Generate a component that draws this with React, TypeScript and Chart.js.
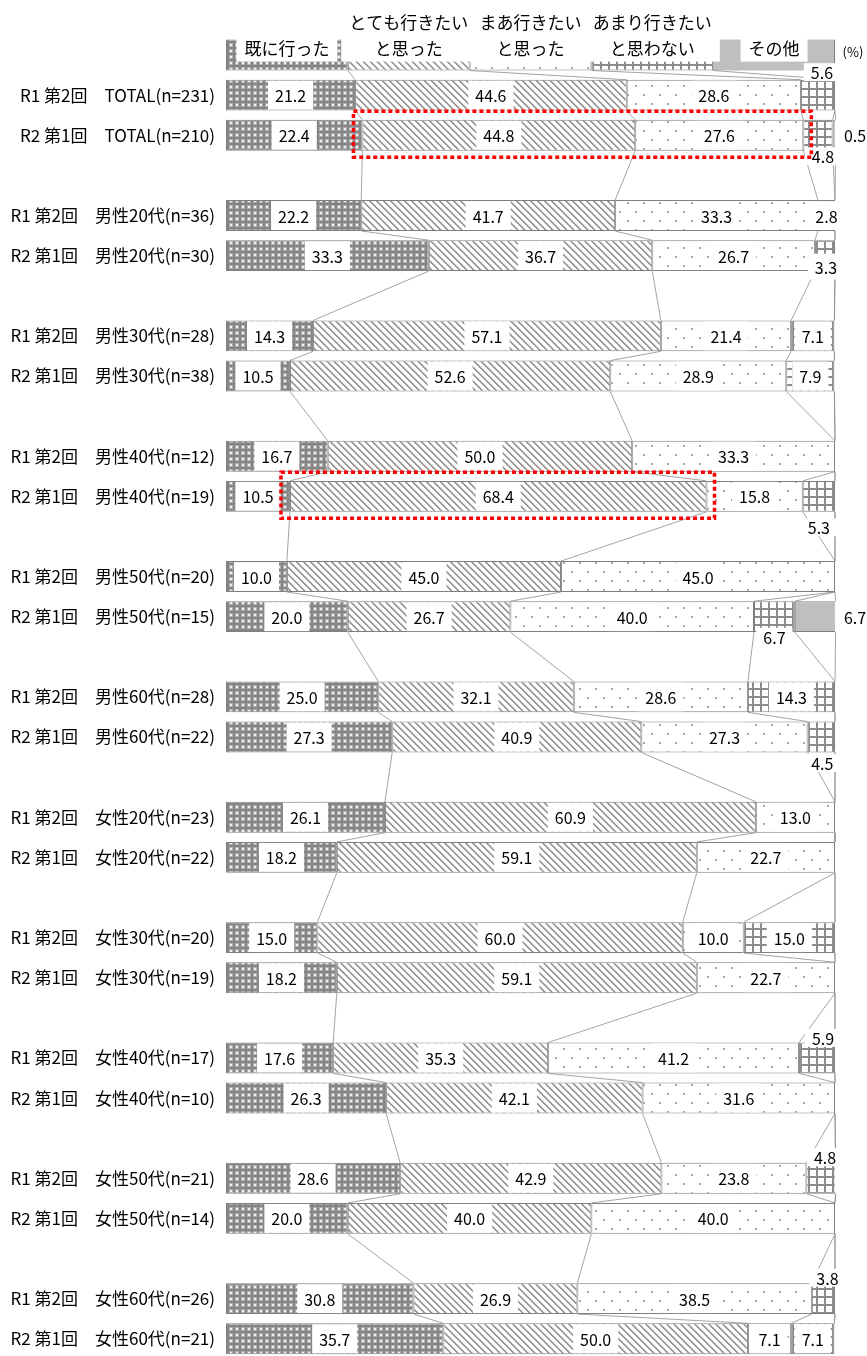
import React, { useEffect, useRef } from "react";
import { Chart, registerables } from "chart.js";
Chart.register(...registerables);

// ---------- data ----------
const seriesNames: string[][] = [
  ["既に行った"],
  ["とても行きたい", "と思った"],
  ["まあ行きたい", "と思った"],
  ["あまり行きたい", "と思わない"],
  ["その他"],
];
const legendShares = [20, 20, 20, 20, 20];
const rowLabels = [
  "R1 第2回　TOTAL(n=231)",
  "R2 第1回　TOTAL(n=210)",
  "R1 第2回　男性20代(n=36)",
  "R2 第1回　男性20代(n=30)",
  "R1 第2回　男性30代(n=28)",
  "R2 第1回　男性30代(n=38)",
  "R1 第2回　男性40代(n=12)",
  "R2 第1回　男性40代(n=19)",
  "R1 第2回　男性50代(n=20)",
  "R2 第1回　男性50代(n=15)",
  "R1 第2回　男性60代(n=28)",
  "R2 第1回　男性60代(n=22)",
  "R1 第2回　女性20代(n=23)",
  "R2 第1回　女性20代(n=22)",
  "R1 第2回　女性30代(n=20)",
  "R2 第1回　女性30代(n=19)",
  "R1 第2回　女性40代(n=17)",
  "R2 第1回　女性40代(n=10)",
  "R1 第2回　女性50代(n=21)",
  "R2 第1回　女性50代(n=14)",
  "R1 第2回　女性60代(n=26)",
  "R2 第1回　女性60代(n=21)",
];
const already = [21.2, 22.4, 22.2, 33.3, 14.3, 10.5, 16.7, 10.5, 10.0, 20.0, 25.0, 27.3, 26.1, 18.2, 15.0, 18.2, 17.6, 26.3, 28.6, 20.0, 30.8, 35.7];
const veryWant = [44.6, 44.8, 41.7, 36.7, 57.1, 52.6, 50.0, 68.4, 45.0, 26.7, 32.1, 40.9, 60.9, 59.1, 60.0, 59.1, 35.3, 42.1, 42.9, 40.0, 26.9, 50.0];
const someWant = [28.6, 27.6, 33.3, 26.7, 21.4, 28.9, 33.3, 15.8, 45.0, 40.0, 28.6, 27.3, 13.0, 22.7, 10.0, 22.7, 41.2, 31.6, 23.8, 40.0, 38.5, 7.1];
const notWant = [5.6, 4.8, 2.8, 3.3, 7.1, 7.9, 0, 5.3, 0, 6.7, 14.3, 4.5, 0, 0, 15.0, 0, 5.9, 0, 4.8, 0, 3.8, 7.1];
const other = [0, 0.5, 0, 0, 0, 0, 0, 0, 0, 6.7, 0, 0, 0, 0, 0, 0, 0, 0, 0, 0, 0, 0];

// ---------- label placement (style) ----------
type LabelPos = { row: number; series: number; dx?: number; dy?: number; right?: boolean; h?: number };
const labelOverrides: LabelPos[] = [
  { row: 0, series: 3, dx: 4, dy: -23, h: 18 },
  { row: 1, series: 3, dx: 5, dy: 21, h: 18 },
  { row: 1, series: 4, right: true, h: 18 },
  { row: 3, series: 3, dx: 1, dy: 11, h: 26 },
  { row: 7, series: 3, dx: 0, dy: 31, h: 18 },
  { row: 9, series: 3, dx: 0, dy: 20, h: 18 },
  { row: 9, series: 4, right: true, h: 18 },
  { row: 11, series: 3, dx: 1, dy: 26, h: 18 },
  { row: 16, series: 3, dx: 6, dy: -20, h: 18 },
  { row: 18, series: 3, dx: 4, dy: -21, h: 18 },
  { row: 20, series: 3, dx: 4, dy: -21, h: 18 },
];
const highlights = [
  { row: 1, from: 1, to: 2 },
  { row: 7, from: 1, to: 1 },
];

const FONT = "'Noto Sans CJK JP', 'Noto Sans', sans-serif";

function tile(w: number, h: number, draw: (c: CanvasRenderingContext2D) => void): CanvasPattern {
  const cv = document.createElement("canvas");
  cv.width = w;
  cv.height = h;
  const c = cv.getContext("2d")!;
  draw(c);
  return c.createPattern(cv, "repeat")!;
}

function makePatterns(): (CanvasPattern | string)[] {
  const p1 = tile(6, 6, (c) => {
    c.fillStyle = "#858585";
    c.fillRect(0, 0, 6, 6);
    c.fillStyle = "#b0b0b0";
    c.fillRect(1, 1, 4, 4);
    c.fillStyle = "#f0f0f0";
    c.fillRect(2, 2, 2, 2);
  });
  const p2 = tile(7, 7, (c) => {
    c.fillStyle = "#ffffff";
    c.fillRect(0, 0, 7, 7);
    for (let y = 0; y < 7; y++) {
      for (let x = 0; x < 7; x++) {
        const d = (((x - y) % 7) + 7) % 7;
        if (d === 0 || d === 1) {
          c.fillStyle = "#9a9a9a";
          c.fillRect(x, y, 1, 1);
        } else if (d === 2) {
          c.fillStyle = "#d2d2d2";
          c.fillRect(x, y, 1, 1);
        }
      }
    }
  });
  const p3 = tile(16, 18, (c) => {
    c.fillStyle = "#ffffff";
    c.fillRect(0, 0, 16, 18);
    c.fillStyle = "#a8a8a8";
    c.fillRect(3, 4, 2, 2);
    c.fillRect(11, 13, 2, 2);
  });
  const p4 = tile(8, 8, (c) => {
    c.fillStyle = "#ffffff";
    c.fillRect(0, 0, 8, 8);
    c.fillStyle = "#8c8c8c";
    c.fillRect(0, 0, 2, 8);
    c.fillRect(0, 0, 8, 2);
  });
  return [p1, p2, p3, p4, "#bfbfbf"];
}

export default function App() {
  const ref = useRef<HTMLCanvasElement>(null);

  useEffect(() => {
    const canvas = ref.current!;
    const patterns = makePatterns();
    const seriesArrays = [already, veryWant, someWant, notWant, other];

    const labels: string[] = [""];
    const rowIndex: number[] = [];
    rowLabels.forEach((l, r) => {
      if (r > 0 && r % 2 === 0) labels.push("");
      rowIndex.push(labels.length);
      labels.push(l);
    });

    const datasets = seriesArrays.map((arr, s) => {
      const data: (number | null)[] = labels.map(() => null);
      data[0] = legendShares[s];
      arr.forEach((v, r) => {
        data[rowIndex[r]] = v > 0 ? v : null;
      });
      return {
        label: seriesNames[s].join(""),
        data,
        backgroundColor: patterns[s] as any,
        borderColor: "#7f7f7f",
        borderWidth: 1,
        borderSkipped: false as any,
        barPercentage: 0.77,
        categoryPercentage: 1,
      };
    });

    const rowValues = (idx: number): number[] => {
      if (idx === 0) return legendShares;
      const r = rowIndex.indexOf(idx);
      return seriesArrays.map((a) => a[r]);
    };

    const barGeom = (chart: any, idx: number) => {
      for (let s = 0; s < 5; s++) {
        const el = chart.getDatasetMeta(s).data[idx];
        if (el && Number.isFinite(el.y) && Number.isFinite(el.height) && el.height > 0) {
          return { y: el.y, h: el.height };
        }
      }
      return null;
    };

    const overlay = {
      id: "overlay",
      beforeDatasetsDraw(chart: any) {
        const ctx = chart.ctx as CanvasRenderingContext2D;
        const xs = chart.scales.x;
        const order = [0, ...rowIndex];
        ctx.save();
        ctx.strokeStyle = "#8c8c8c";
        ctx.lineWidth = 0.8;
        for (let i = 0; i < order.length - 1; i++) {
          const a = order[i];
          const b = order[i + 1];
          const ga = barGeom(chart, a);
          const gb = barGeom(chart, b);
          if (!ga || !gb) continue;
          const va = rowValues(a);
          const vb = rowValues(b);
          let ca = 0;
          let cb = 0;
          for (let k = 0; k < 5; k++) {
            ca += va[k];
            cb += vb[k];
            ctx.beginPath();
            ctx.moveTo(xs.getPixelForValue(ca), ga.y + ga.h / 2);
            ctx.lineTo(xs.getPixelForValue(cb), gb.y - gb.h / 2);
            ctx.stroke();
          }
        }
        ctx.restore();
      },
      afterDatasetsDraw(chart: any) {
        const ctx = chart.ctx as CanvasRenderingContext2D;
        const xs = chart.scales.x;
        const area = chart.chartArea;
        ctx.save();
        ctx.textAlign = "center";
        ctx.textBaseline = "middle";

        // value labels
        ctx.font = `16px ${FONT}`;
        rowIndex.forEach((idx, r) => {
          for (let s = 0; s < 5; s++) {
            const v = seriesArrays[s][r];
            if (!(v > 0)) continue;
            const el = chart.getDatasetMeta(s).data[idx] as any;
            const cx = (el.x + el.base) / 2;
            let x = cx;
            let y = el.y;
            let h = el.height - 2;
            const ov = labelOverrides.find((o) => o.row === r && o.series === s);
            if (ov) {
              if (ov.right) {
                x = xs.getPixelForValue(100) + 20;
              } else {
                x = cx + (ov.dx || 0);
                y = el.y + (ov.dy || 0);
              }
              if (ov.h) h = ov.h;
            }
            const txt = v.toFixed(1);
            const w = ctx.measureText(txt).width + 14;
            ctx.fillStyle = "#ffffff";
            ctx.fillRect(x - w / 2, y - h / 2, w, h);
            ctx.fillStyle = "#000000";
            ctx.fillText(txt, x, y + 1);
          }
        });

        // legend labels on the top bar
        ctx.font = `17px ${FONT}`;
        for (let s = 0; s < 5; s++) {
          const el = chart.getDatasetMeta(s).data[0] as any;
          const cx = (el.x + el.base) / 2;
          const top = el.y - el.height / 2;
          const lines = seriesNames[s];
          const lastY = top + 9;
          const gap = 26;
          const widths = lines.map((l) => ctx.measureText(l).width);
          const maxW = Math.max(...widths);
          const boxTop = lastY - 12 - (lines.length - 1) * gap;
          const boxW = maxW + 16;
          ctx.fillStyle = "#ffffff";
          ctx.fillRect(cx - boxW / 2, boxTop, boxW, top + 22 - boxTop);
          ctx.fillStyle = "#000000";
          lines.forEach((l, i) => {
            ctx.fillText(l, cx, lastY - (lines.length - 1 - i) * gap);
          });
        }

        // (%)
        ctx.font = `13px ${FONT}`;
        ctx.fillStyle = "#000000";
        ctx.fillText("(%)", area.right + 18, 52);

        // highlight boxes
        ctx.strokeStyle = "#ff0000";
        ctx.lineWidth = 3.5;
        ctx.setLineDash([4, 3]);
        highlights.forEach((hl) => {
          const idx = rowIndex[hl.row];
          const vals = rowValues(idx);
          let start = 0;
          for (let k = 0; k < hl.from; k++) start += vals[k];
          let end = start;
          for (let k = hl.from; k <= hl.to; k++) end += vals[k];
          const g = barGeom(chart, idx)!;
          const x1 = xs.getPixelForValue(start) - 9;
          const x2 = xs.getPixelForValue(end) + 8;
          const y1 = g.y - 24;
          const y2 = g.y + 22;
          ctx.strokeRect(x1, y1, x2 - x1, y2 - y1);
        });
        ctx.restore();
      },
    };

    const chart = new Chart(canvas, {
      type: "bar",
      data: { labels, datasets: datasets as any },
      options: {
        indexAxis: "y",
        animation: false,
        responsive: false,
        devicePixelRatio: window.devicePixelRatio || 1,
        layout: { padding: { left: 0, right: 32, top: 35, bottom: 12 } },
        plugins: {
          legend: { display: false },
          tooltip: { enabled: false },
        },
        scales: {
          x: {
            stacked: true,
            min: 0,
            max: 100,
            display: false,
          },
          y: {
            stacked: true,
            grid: { display: false, drawTicks: false },
            border: { display: false },
            ticks: {
              autoSkip: false,
              padding: 11,
              color: "#000000",
              font: { family: FONT, size: 17 },
            },
            afterFit: (scale: any) => {
              scale.width = 226;
            },
          },
        },
      },
      plugins: [overlay as any],
    });

    return () => chart.destroy();
  }, []);

  return (
    <div
      style={{
        position: "fixed",
        left: 0,
        top: 0,
        width: 867,
        height: 1356,
        overflow: "hidden",
        background: "#ffffff",
      }}
    >
      <canvas ref={ref} width={867} height={1380} style={{ display: "block", width: 867, height: 1380 }} />
    </div>
  );
}
